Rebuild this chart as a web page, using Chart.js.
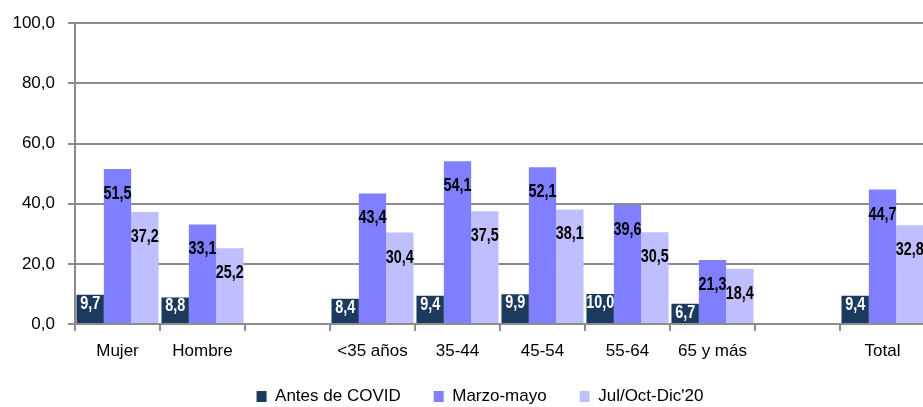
<!DOCTYPE html>
<html>
<head>
<meta charset="utf-8">
<script src="https://cdn.jsdelivr.net/npm/chart.js@4"></script>
<style>
  html, body { margin: 0; padding: 0; background: #fff; overflow: hidden; }
  #wrap { width: 960px; height: 407px; }
</style>
</head>
<body>
<div id="wrap"><canvas id="brechaChart"></canvas></div>
<script>
    const categories = ["Mujer", "Hombre", "", "<35 años", "35-44", "45-54", "55-64", "65 y más", "", "Total"];
    const antesCovid = [9.7, 8.8, null, 8.4, 9.4, 9.9, 10.0, 6.7, null, 9.4];
    const marzoMayo = [51.5, 33.1, null, 43.4, 54.1, 52.1, 39.6, 21.3, null, 44.7];
    const julOctDic = [37.2, 25.2, null, 30.4, 37.5, 38.1, 30.5, 18.4, null, 32.8];
    const yTicks = [0, 20, 40, 60, 80, 100];

    const sans = "'Liberation Sans', Arial, sans-serif";
    const fmt = v => v.toFixed(1).replace(".", ",");

    // etiquetas de valor dentro de las barras (texto estrechado como Arial Narrow)
    const barLabels = {
        id: "barLabels",
        beforeDraw(chart) {
            // recolocar la leyenda como en el original
            chart.legend.left += 11;
            chart.legend.right += 11;
            chart.legend.top -= 7;
            chart.legend.bottom -= 7;
        },
        afterDatasetsDraw(chart) {
            const ctx = chart.ctx;
            chart.data.datasets.forEach((ds, i) => {
                const meta = chart.getDatasetMeta(i);
                meta.data.forEach((bar, j) => {
                    const v = ds.data[j];
                    if (v === null) return;
                    const off = i === 0 ? 9 : 25;
                    ctx.save();
                    ctx.font = "bold 18px " + sans;
                    ctx.textAlign = "center";
                    ctx.textBaseline = "middle";
                    ctx.fillStyle = i === 0 ? "#ffffff" : "#000000";
                    ctx.translate(bar.x, bar.y + off);
                    ctx.scale(0.8, 1);
                    ctx.fillText(fmt(v), 0, 0);
                    ctx.restore();
                });
            });
        }
    };

    const ctx = document.getElementById("brechaChart").getContext("2d");
    const brechaChart = new Chart(ctx, {
        type: "bar",
        data: {
            labels: categories,
            datasets: [
                { label: "Antes de COVID", data: antesCovid, backgroundColor: "#1B3A5E" },
                { label: "Marzo-mayo", data: marzoMayo, backgroundColor: "#7F7FFF" },
                { label: "Jul/Oct-Dic'20", data: julOctDic, backgroundColor: "#BFBFFF" },
            ],
        },
        options: {
            responsive: true,
            maintainAspectRatio: false,
            animation: false,
            layout: { padding: { top: 12, left: 13, right: 35, bottom: -15 } },
            datasets: {
                bar: { categoryPercentage: 0.965, barPercentage: 1.0, borderWidth: 0 },
            },
            scales: {
                x: {
                    afterFit: axis => { axis.height = 38; },
                    grid: { display: true, drawOnChartArea: false, color: "#8c8c8c", lineWidth: 2, tickLength: 7 },
                    border: { display: true, color: "#8c8c8c", width: 2 },
                    ticks: { color: "#000", font: { family: sans, size: 17 }, padding: 10, maxRotation: 0, autoSkip: false },
                },
                y: {
                    min: 0,
                    max: 100,
                    afterFit: axis => { axis.width = 62; },
                    afterBuildTicks: axis => { axis.ticks = yTicks.map(v => ({ value: v })); },
                    grid: { color: "#8c8c8c", lineWidth: 2, tickLength: 7 },
                    border: { display: true, color: "#8c8c8c", width: 2 },
                    ticks: { color: "#000", font: { family: sans, size: 17 }, padding: 13, callback: v => fmt(v) },
                },
            },
            plugins: {
                legend: {
                    position: "bottom",
                    labels: { color: "#000", font: { family: sans, size: 17 }, boxWidth: 10, boxHeight: 11, padding: 33 },
                },
                tooltip: { enabled: false },
            },
        },
        plugins: [barLabels],
    });
</script>
</body>
</html>
